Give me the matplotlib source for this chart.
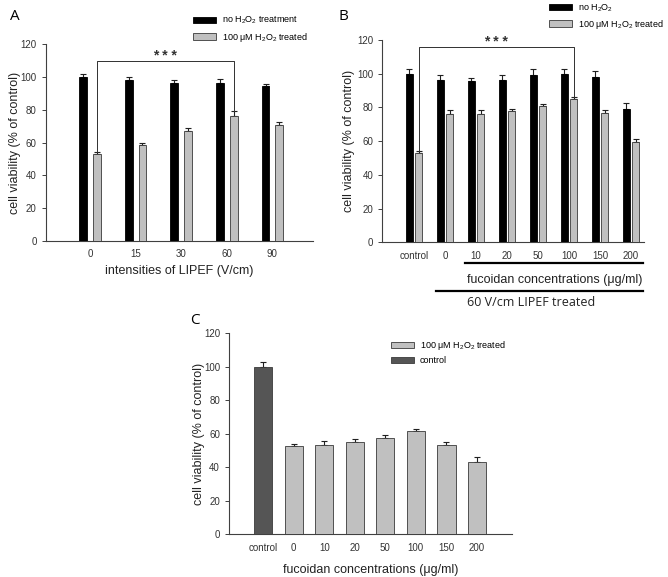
import numpy as np
import matplotlib
matplotlib.use('Agg')
import matplotlib.pyplot as plt

plt.rcParams['font.family'] = ['Liberation Sans', 'DejaVu Sans']
plt.rcParams['mathtext.default'] = 'regular'

# ---- data ----
# Panel A
lipef = ['0', '15', '30', '60', '90']
a_ctrl = [100, 98, 96.5, 96.5, 94.5]
a_ctrl_err = [1.8, 1.8, 1.8, 2.5, 1.5]
a_h2o2 = [53, 58.5, 67, 76.5, 71]
a_h2o2_err = [1.2, 1.5, 2.0, 2.8, 1.3]

# Panel B
fuc_b = ['control', '0', '10', '20', '50', '100', '150', '200']
b_ctrl = [100, 96.5, 95.5, 96, 99.5, 100, 98, 79]
b_ctrl_err = [3.0, 2.5, 2.0, 3.0, 3.5, 3.0, 3.5, 3.5]
b_h2o2 = [53, 76, 75.8, 78, 80.8, 84.8, 76.5, 59.7]
b_h2o2_err = [1.0, 2.2, 2.5, 1.2, 1.5, 1.5, 1.8, 1.5]

# Panel C
fuc_c = ['control', '0', '10', '20', '50', '100', '150', '200']
c_vals = [100, 53, 53.5, 55.3, 57.5, 61.5, 53.3, 43.2]
c_err = [3.0, 1.2, 2.0, 1.5, 1.8, 1.3, 1.8, 3.0]

BLACK = '#000000'
GRAY = '#c0c0c0'
DARK = '#555555'
EDGE = '#3a3a3a'
TICK_FS = 7
LAB_FS = 9
LEG_FS = 6.5

fig = plt.figure(figsize=(6.68, 5.77), dpi=100)


def style_axis(ax):
    for s in ['top', 'right']:
        ax.spines[s].set_visible(False)
    for s in ['left', 'bottom']:
        ax.spines[s].set_linewidth(0.8)
        ax.spines[s].set_color('#404040')
    ax.tick_params(axis='y', length=3, width=0.7, labelsize=TICK_FS, colors='#404040', labelcolor='#333333')
    ax.tick_params(axis='x', length=0, labelsize=TICK_FS, labelcolor='#333333', pad=6)
    ax.set_ylim(0, 120)
    ax.set_yticks(range(0, 121, 20))


def bars(ax, x, vals, errs, color, width):
    ax.bar(x, vals, width, color=color, edgecolor=EDGE if color != BLACK else BLACK,
           linewidth=0.6, zorder=3)
    ax.errorbar(x, vals, yerr=[np.zeros(len(vals)), errs], fmt='none', ecolor='#202020',
                elinewidth=0.8, capsize=2.2, capthick=0.8, zorder=2)


def legend(ax, handles, labels, x, y):
    ax.legend(handles=handles, labels=labels, loc='upper left',
              bbox_to_anchor=(x / 668, 1 - y / 577), bbox_transform=fig.transFigure,
              frameon=False, fontsize=LEG_FS, handlelength=2.6, handleheight=0.7,
              handletextpad=0.6, labelspacing=0.45, borderpad=0, borderaxespad=0)


# ================= Panel A =================
axA = fig.add_axes([0.0684, 0.5828, 0.4002, 0.3404])
xa = np.arange(len(lipef))
off = 0.15
bars(axA, xa - off, a_ctrl, a_ctrl_err, BLACK, 0.17)
bars(axA, xa + off, a_h2o2, a_h2o2_err, GRAY, 0.17)
style_axis(axA)
axA.set_xlim(-0.97, 4.89)
axA.set_xticks(xa)
axA.set_xticklabels(lipef)
axA.set_xlabel('intensities of LIPEF (V/cm)', fontsize=LAB_FS, color='#222222')
axA.set_ylabel('cell viability (% of control)', fontsize=LAB_FS, color='#222222', labelpad=0)

# significance bracket
i0, i1 = 0, 3
ytop = 110
axA.plot([i0 + off, i0 + off, i1 + off, i1 + off],
         [a_h2o2[i0] + a_h2o2_err[i0], ytop, ytop, a_h2o2[i1] + a_h2o2_err[i1]],
         color='#303030', lw=0.7, zorder=4)
axA.text((i0 + i1) / 2 + off, ytop - 1.5, '* * *', ha='center', va='bottom', fontsize=10,
         fontweight='bold', color='#333333')

legend(axA, [plt.Rectangle((0, 0), 1, 1, fc=BLACK, ec=BLACK, lw=0.6),
             plt.Rectangle((0, 0), 1, 1, fc=GRAY, ec=EDGE, lw=0.6)],
       ['no H$_2$O$_2$ treatment', '100 μM H$_2$O$_2$ treated'], 193, 15)

fig.text(10 / 668, 1 - 17 / 577, 'A', fontsize=11, family='Open Sans', va='center', ha='left')

# ================= Panel B =================
axB = fig.add_axes([0.5723, 0.5801, 0.3918, 0.3506])
xb = np.arange(len(fuc_b))
offb = 0.15
bars(axB, xb - offb, b_ctrl, b_ctrl_err, BLACK, 0.21)
bars(axB, xb + offb, b_h2o2, b_h2o2_err, GRAY, 0.21)
style_axis(axB)
axB.set_xlim(-1.02, 7.42)
axB.set_xticks(xb)
axB.set_xticklabels(fuc_b)
axB.set_ylabel('cell viability (% of control)', fontsize=LAB_FS, color='#222222', labelpad=1.5)

j0, j1 = 0, 5
ytopb = 116
axB.plot([j0 + offb, j0 + offb, j1 + offb, j1 + offb],
         [b_h2o2[j0] + b_h2o2_err[j0], ytopb, ytopb, b_h2o2[j1] + b_h2o2_err[j1]],
         color='#303030', lw=0.7, zorder=4, clip_on=False)
axB.text((j0 + j1) / 2 + offb, ytopb - 1.5, '* * *', ha='center', va='bottom', fontsize=10,
         fontweight='bold', color='#333333')

legend(axB, [plt.Rectangle((0, 0), 1, 1, fc=BLACK, ec=BLACK, lw=0.6),
             plt.Rectangle((0, 0), 1, 1, fc=GRAY, ec=EDGE, lw=0.6)],
       ['no H$_2$O$_2$', '100 μM H$_2$O$_2$ treated'], 549, 2)

# group lines under the axis
fig.add_artist(plt.Line2D([465 / 668, 643 / 668], [1 - 263.5 / 577] * 2, color='black', lw=1.6))
fig.text(467 / 668, 1 - 279.5 / 577, 'fucoidan concentrations (μg/ml)', fontsize=LAB_FS,
         va='center', ha='left', color='#222222')
fig.add_artist(plt.Line2D([436 / 668, 643 / 668], [1 - 291 / 577] * 2, color='black', lw=1.6))
fig.text(467 / 668, 1 - 302.5 / 577, '60 V/cm LIPEF treated', fontsize=9, family='Open Sans',
         va='center', ha='left', color='#222222')

fig.text(339 / 668, 1 - 17 / 577, 'B', fontsize=11, family='Open Sans', va='center', ha='left')

# ================= Panel C =================
axC = fig.add_axes([0.3428, 0.0740, 0.4237, 0.3484])
xc = np.arange(len(fuc_c))
cols = [DARK] + [GRAY] * (len(fuc_c) - 1)
axC.bar(xc, c_vals, 0.6, color=cols, edgecolor=EDGE, linewidth=0.6, zorder=3)
axC.errorbar(xc, c_vals, yerr=[np.zeros(len(c_vals)), c_err], fmt='none', ecolor='#202020',
             elinewidth=0.8, capsize=2.2, capthick=0.8, zorder=2)
style_axis(axC)
axC.set_xlim(-1.12, 8.15)
axC.set_xticks(xc)
axC.set_xticklabels(fuc_c)
axC.set_xlabel('fucoidan concentrations (μg/ml)', fontsize=LAB_FS, color='#222222', labelpad=8)
axC.set_ylabel('cell viability (% of control)', fontsize=LAB_FS, color='#222222', labelpad=-1)

legend(axC, [plt.Rectangle((0, 0), 1, 1, fc=GRAY, ec=EDGE, lw=0.6),
             plt.Rectangle((0, 0), 1, 1, fc=DARK, ec=EDGE, lw=0.6)],
       ['100 μM H$_2$O$_2$ treated', 'control'], 391, 339)

fig.text(190 / 668, 1 - 320 / 577, 'C', fontsize=11, family='Open Sans', va='center', ha='left')

fig.savefig('out.png', dpi=100)
